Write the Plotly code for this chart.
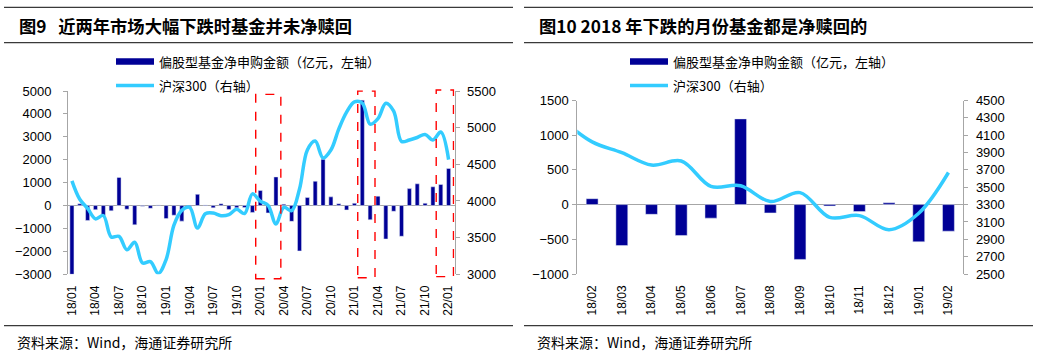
import plotly.graph_objects as go

W, H = 1038, 356

# ---------------- data: left chart (2018/01 - 2022/01) ----------------
months_left = [f"{y:02d}/{m:02d}" for y in range(18, 23) for m in range(1, 13)][:49]
flows_left = [
    -3000, 80, -650, -180, -430, -230, 1230, -160, -840, -30, -120, 30,
    -570, -420, -680, -40, 490, 30, -100, 80, -170, -100, -90, -300,
    660, -320, 1250, 60, -690, -1980, 350, 1060, 2020, 380, 80, -190,
    100, 4600, -620, 410, -1460, -250, -1340, 740, 950, 100, 820, 920,
    1620,
]
csi_left = [
    4275, 4023, 3899, 3756, 3802, 3510, 3517, 3335, 3438, 3153, 3173, 3011,
    3201, 3670, 3872, 3913, 3630, 3826, 3836, 3799, 3814, 3886, 3829, 4097,
    3999, 3940, 3686, 3912, 3868, 4164, 4696, 4817, 4588, 4695, 4980, 5211,
    5352, 5336, 5048, 5123, 5332, 5224, 4812, 4832, 4866, 4908, 4832, 4940,
    4564,
]
ticks_left = months_left[::3]
# highlighted periods (first, last month) with box top/bottom (paper)
highlights = [("20/01", "20/03", 0.735, 0.217), ("21/02", "21/03", 0.744, 0.220),
              ("21/12", "22/01", 0.747, 0.223)]

# ---------------- data: right chart (2018/02 - 2019/02) ----------------
months_right = ["18/01", "18/02", "18/03", "18/04", "18/05", "18/06", "18/07", "18/08",
                "18/09", "18/10", "18/11", "18/12", "19/01", "19/02"]
flows_right = [None, 85, -590, -140, -445, -195, 1235, -120, -790, -20, -100, 25, -536, -383]
csi_right = [4275, 4023, 3899, 3756, 3802, 3510, 3517, 3335, 3438, 3153, 3173, 3011, 3201, 3670]
ticks_right = months_right[1:]

titles = ["图9   近两年市场大幅下跌时基金并未净赎回", "图10 2018 年下跌的月份基金都是净赎回的"]
legend_names = ["偏股型基金净申购金额（亿元，左轴）", "沪深300（右轴）"]
source = "资料来源：Wind，海通证券研究所"

BAR = "#000096"
LINE = "#33CCFF"
GRAY = "#A6A6A6"
LATIN = "Liberation Sans, Arial, Noto Sans CJK SC"
CJK = "Noto Sans CJK SC"

def px(x):
    return x / W

def py(y):
    return 1 - y / H

fig = go.Figure()
fig.add_trace(go.Bar(x=months_left, y=flows_left, marker_color=BAR, width=0.52,
                     xaxis="x", yaxis="y", showlegend=False))
fig.add_trace(go.Scatter(x=months_left, y=csi_left, mode="lines",
                         line=dict(color=LINE, width=3.5, shape="spline", smoothing=1.0),
                         xaxis="x", yaxis="y2", showlegend=False))
fig.add_trace(go.Bar(x=months_right, y=flows_right, marker_color=BAR, width=0.4,
                     xaxis="x2", yaxis="y3", showlegend=False))
fig.add_trace(go.Scatter(x=months_right, y=csi_right, mode="lines",
                         line=dict(color=LINE, width=3.5, shape="spline", smoothing=1.0),
                         xaxis="x2", yaxis="y4", showlegend=False))

tickfont = dict(family=LATIN, size=13, color="#000000")
xtickfont = dict(family=LATIN, size=12, color="#000000")
yax_common = dict(showgrid=False, showline=True, linecolor=GRAY, linewidth=1,
                  ticks="outside", ticklen=4, tickcolor=GRAY, tickfont=tickfont,
                  fixedrange=True, automargin=False)
xax_common = dict(type="category", tickmode="array", tickangle=-90, tickfont=xtickfont,
                  showgrid=False, showline=False, ticks="", zeroline=False,
                  ticklabelstandoff=8, automargin=False, fixedrange=True)

LD = [px(68), px(454.5)]
RD = [px(577.3), px(963.3)]
LY = [py(274.3), py(91)]
RY = [py(274), py(100.5)]
L_RANGE = [-3000, 5000]
R_RANGE = [-1000, 1500]
LX_RANGE = [-0.5, 48.75]
RX_RANGE = [0.5, 13.5]

def zero_pos(dom, rng):
    return dom[0] + (0 - rng[0]) / (rng[1] - rng[0]) * (dom[1] - dom[0])

tick_axis = dict(showgrid=False, showline=False, zeroline=False, showticklabels=False,
                 ticks="outside", ticklen=4, tickcolor=GRAY, tickmode="array",
                 automargin=False, fixedrange=True, type="linear", anchor="free", side="bottom")

fig.update_layout(
    width=W, height=H, margin=dict(l=0, r=0, t=0, b=0, autoexpand=False),
    paper_bgcolor="white", plot_bgcolor="white", showlegend=False,
    xaxis=dict(domain=LD, anchor="y", range=LX_RANGE,
               tickvals=ticks_left, ticktext=ticks_left, **xax_common),
    yaxis=dict(domain=LY, anchor="x", range=L_RANGE, dtick=1000,
               zeroline=True, zerolinecolor=GRAY, zerolinewidth=1,
               ticklabelstandoff=9, **yax_common),
    yaxis2=dict(overlaying="y", side="right", anchor="x", range=[3000, 5500], dtick=500,
                tick0=3000, zeroline=False, ticklabelstandoff=5, **yax_common),
    xaxis2=dict(domain=RD, anchor="y3", range=RX_RANGE,
                tickvals=ticks_right, ticktext=ticks_right, **xax_common),
    yaxis3=dict(domain=RY, anchor="x2", range=R_RANGE, dtick=500,
                zeroline=True, zerolinecolor=GRAY, zerolinewidth=1,
                ticklabelstandoff=1, **yax_common),
    yaxis4=dict(overlaying="y3", side="right", anchor="x2", range=[2500, 4500], dtick=200,
                tick0=2500, zeroline=False, ticklabelstandoff=5, **yax_common),
    xaxis3=dict(overlaying="x", range=LX_RANGE, position=zero_pos(LY, L_RANGE),
                tickvals=[k + 2.5 for k in range(0, 48, 6)], **tick_axis),
    xaxis4=dict(overlaying="x2", range=RX_RANGE, position=zero_pos(RY, R_RANGE),
                tickvals=[k + 0.5 for k in range(1, 13)], **tick_axis),
)

shapes = []
annotations = []
panels = [(0, 4, 513), (1, 524, 1033)]
legend_x = [116, 630]
for i, x0, x1 in panels:
    for yy in (7.3, 42.7, 325.7):
        shapes.append(dict(type="line", xref="paper", yref="paper", x0=px(x0), x1=px(x1),
                           y0=py(yy), y1=py(yy), line=dict(color="#3a3a3a", width=1.3)))
    annotations.append(dict(text=titles[i], xref="paper", yref="paper", x=px(x0 + 13),
                            y=py(25.3), xanchor="left", yanchor="middle", showarrow=False,
                            font=dict(family=CJK, size=17.3, color="#000000", weight="bold")))
    annotations.append(dict(text=source, xref="paper", yref="paper", x=px(x0 + 11),
                            y=py(341.5), xanchor="left", yanchor="middle", showarrow=False,
                            font=dict(family=CJK, size=14, color="#000000")))
    lx = legend_x[i]
    shapes.append(dict(type="rect", xref="paper", yref="paper", x0=px(lx), x1=px(lx + 38),
                       y0=py(64.8), y1=py(58.3), fillcolor=BAR, line=dict(width=0)))
    shapes.append(dict(type="line", xref="paper", yref="paper", x0=px(lx), x1=px(lx + 38),
                       y0=py(85.6), y1=py(85.6), line=dict(color=LINE, width=3.5)))
    annotations.append(dict(text=legend_names[0], xref="paper", yref="paper", x=px(lx + 41),
                            y=py(61.5), xanchor="left", yanchor="middle", showarrow=False,
                            font=dict(family=CJK, size=13, color="#000000")))
    annotations.append(dict(text=legend_names[1], xref="paper", yref="paper", x=px(lx + 41),
                            y=py(85.3), xanchor="left", yanchor="middle", showarrow=False,
                            font=dict(family=CJK, size=13, color="#000000")))

for first, last, top, bottom in highlights:
    i0 = months_left.index(first)
    i1 = months_left.index(last)
    shapes.append(dict(type="rect", xref="x", yref="paper", x0=i0 - 0.58, x1=i1 + 0.62,
                       y0=bottom, y1=top, line=dict(color="#FF0000", width=1.4, dash="dash"),
                       fillcolor="rgba(0,0,0,0)"))

fig.update_layout(shapes=shapes, annotations=annotations)
fig.write_html("out.html", config={"displayModeBar": False},
               post_script="document.body.style.margin='0';document.body.style.overflow='hidden';")
